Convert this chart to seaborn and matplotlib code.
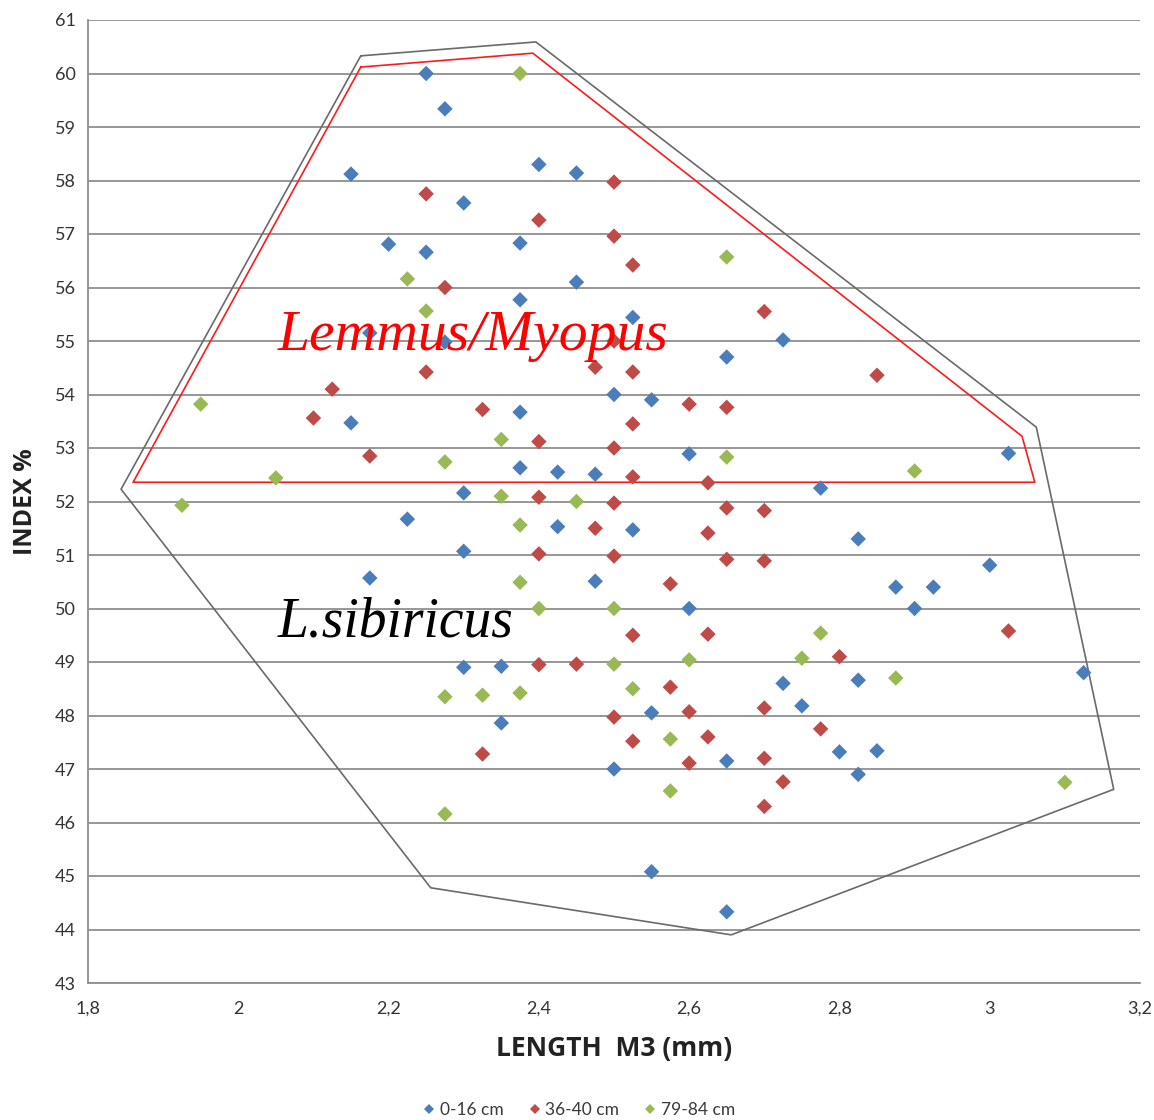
import numpy as np
import pandas as pd
import matplotlib
matplotlib.use("Agg")
import matplotlib.pyplot as plt
import seaborn as sns
from matplotlib.ticker import FuncFormatter, MultipleLocator

# ---------------- data ----------------
group_labels = ["0-16 cm", "36-40 cm", "79-84 cm"]
group_colors = ["#4A7EBB", "#BE4B48", "#98B954"]

blue_x = [2.25, 2.275, 2.15, 2.4, 2.45, 2.3, 2.2, 2.375, 2.25, 2.45, 2.375, 2.525,
          2.175, 2.275, 2.725, 2.65, 2.5, 2.55, 2.15, 2.375, 2.6, 3.025, 2.375, 2.425,
          2.475, 2.775, 2.3, 2.225, 2.425, 2.525, 2.825, 2.3, 2.175, 2.475, 3.0, 2.875,
          2.925, 2.6, 2.9, 2.3, 2.35, 3.125, 2.725, 2.825, 2.75, 2.55, 2.35, 2.8, 2.85,
          2.825, 2.5, 2.65, 2.55, 2.65]
blue_y = [60.0, 59.34, 58.12, 58.3, 58.14, 57.58, 56.81, 56.83, 56.66, 56.1, 55.77, 55.44,
          55.15, 54.98, 55.02, 54.7, 54.0, 53.9, 53.47, 53.67, 52.89, 52.9, 52.63, 52.55,
          52.51, 52.25, 52.16, 51.67, 51.53, 51.47, 51.3, 51.07, 50.57, 50.51, 50.81, 50.4,
          50.4, 50.0, 50.0, 48.9, 48.92, 48.8, 48.6, 48.66, 48.18, 48.05, 47.86, 47.32, 47.34,
          46.9, 47.0, 47.15, 45.08, 44.33]

red_x = [2.25, 2.5, 2.4, 2.5, 2.525, 2.275, 2.7, 2.5, 2.475, 2.525, 2.25, 2.85, 2.125,
         2.6, 2.65, 2.325, 2.1, 2.525, 2.4, 2.5, 2.175, 2.525, 2.625, 2.4, 2.5, 2.65, 2.7,
         2.475, 2.625, 2.4, 2.5, 2.65, 2.7, 2.575, 3.025, 2.525, 2.625, 2.8, 2.4, 2.45,
         2.575, 2.5, 2.6, 2.7, 2.775, 2.525, 2.625, 2.325, 2.6, 2.7, 2.725, 2.7]
red_y = [57.75, 57.97, 57.26, 56.96, 56.42, 56.0, 55.55, 55.0, 54.51, 54.42, 54.42, 54.36,
         54.1, 53.82, 53.76, 53.72, 53.56, 53.45, 53.12, 53.0, 52.85, 52.46, 52.35, 52.08,
         51.97, 51.88, 51.83, 51.5, 51.41, 51.02, 50.98, 50.92, 50.89, 50.46, 49.58, 49.5,
         49.52, 49.1, 48.95, 48.96, 48.53, 47.97, 48.07, 48.14, 47.75, 47.52, 47.6, 47.28,
         47.11, 47.2, 46.76, 46.3]

green_x = [2.375, 2.65, 2.225, 2.25, 1.95, 2.35, 2.65, 2.275, 2.9, 2.05, 1.925, 2.35,
           2.45, 2.375, 2.375, 2.4, 2.5, 2.775, 2.75, 2.6, 2.5, 2.875, 2.525, 2.275,
           2.325, 2.375, 2.575, 2.575, 2.275, 3.1]
green_y = [60.0, 56.57, 56.16, 55.56, 53.82, 53.16, 52.83, 52.74, 52.57, 52.44, 51.93, 52.1,
           52.0, 51.56, 50.49, 50.0, 50.0, 49.54, 49.07, 49.04, 48.96, 48.7, 48.5, 48.35,
           48.38, 48.42, 47.56, 46.59, 46.16, 46.75]

# outline polygons (closed)
gray_poly_x = [2.163, 2.396, 3.062, 3.165, 2.656, 2.256, 1.844]
gray_poly_y = [60.33, 60.59, 53.39, 46.62, 43.90, 44.78, 52.23]
red_poly_x = [2.163, 2.392, 3.043, 3.060, 1.860]
red_poly_y = [60.12, 60.38, 53.22, 52.36, 52.36]

label_lemmus = "Lemmus/Myopus"
label_sibiricus = "L.sibiricus"
x_title = "LENGTH  M3 (mm)"
y_title = "INDEX %"

# ---------------- build table ----------------
df = pd.DataFrame({
    "length": blue_x + red_x + green_x,
    "index": blue_y + red_y + green_y,
    "group": ([group_labels[0]] * len(blue_x) + [group_labels[1]] * len(red_x)
              + [group_labels[2]] * len(green_x)),
})

sns.set_style("white")
plt.rcParams["font.family"] = ["Lato", "DejaVu Sans"]

fig = plt.figure(figsize=(11.54, 11.2), dpi=100)
ax = fig.add_axes([88 / 1154, 1 - 983 / 1120, (1140 - 88) / 1154, (983 - 20) / 1120])

ax.set_xlim(1.8, 3.2)
ax.set_ylim(43, 61)
ax.yaxis.set_major_locator(MultipleLocator(1))
ax.xaxis.set_major_locator(MultipleLocator(0.2))
ax.xaxis.set_major_formatter(FuncFormatter(lambda v, p: f"{v:.10g}".replace(".", ",")))
ax.grid(axis="y", color="#8f8f8f", linewidth=1.3, zorder=0)
ax.grid(axis="x", visible=False)

for s in ["top", "right"]:
    ax.spines[s].set_visible(False)
for s in ["left", "bottom"]:
    ax.spines[s].set_color("#8f8f8f")
    ax.spines[s].set_linewidth(1.3)

ax.tick_params(axis="both", which="major", direction="out", length=5, width=1.2,
               color="#8f8f8f", labelsize=13, labelcolor="#333333", pad=4)
ax.tick_params(axis="x", pad=8)
ax.set_axisbelow(True)

# polygons
ax.plot(gray_poly_x + gray_poly_x[:1], gray_poly_y + gray_poly_y[:1],
        color="#6a6a6a", linewidth=1.2, zorder=2)
ax.plot(red_poly_x + red_poly_x[:1], red_poly_y + red_poly_y[:1],
        color="#ff1a1a", linewidth=1.2, zorder=2)

sns.scatterplot(data=df, x="length", y="index", hue="group", hue_order=group_labels,
                palette=group_colors, marker="D", s=62, linewidth=0, ax=ax, zorder=3)

ax.text(2.053, 54.83, label_lemmus, color="#ff0000", fontsize=41.5, fontstyle="italic",
        family="Liberation Serif", ha="left", va="baseline", zorder=4)
ax.text(2.053, 49.47, label_sibiricus, color="#000000", fontsize=40, fontstyle="italic",
        family="Liberation Serif", ha="left", va="baseline", zorder=4)

ax.set_xlabel(x_title, fontsize=19, fontweight="bold", color="#222222", labelpad=13,
              family=["Open Sans", "DejaVu Sans"])
ax.set_ylabel(y_title, fontsize=18, fontweight="bold", color="#222222", labelpad=12,
              family=["Open Sans", "DejaVu Sans"])

sns.move_legend(ax, "center", bbox_to_anchor=(0.5, 0.009), bbox_transform=fig.transFigure,
                ncol=3, frameon=False, title=None, fontsize=12.5, markerscale=0.7,
                handletextpad=0.0, columnspacing=1.2, handlelength=1.2)
for t in ax.get_legend().get_texts():
    t.set_color("#3a3a3a")

fig.savefig("out.png", dpi=100)
